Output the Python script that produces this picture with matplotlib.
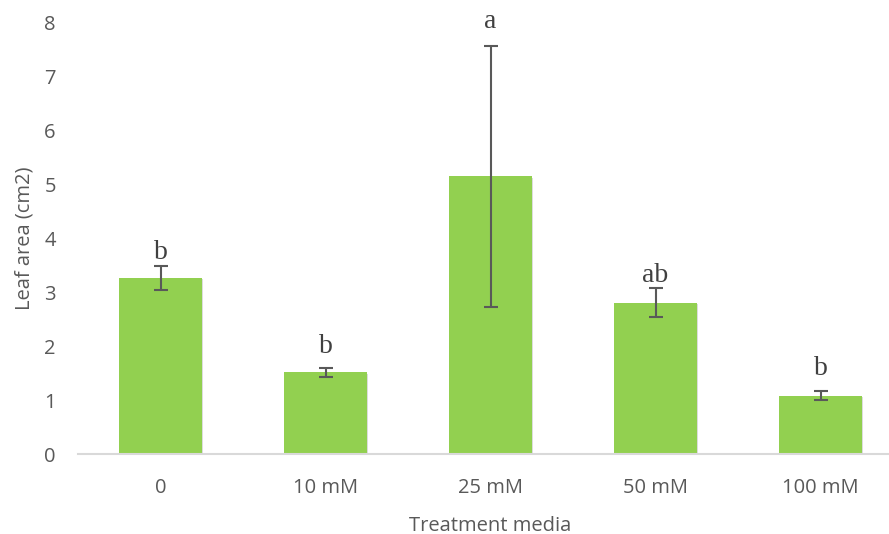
#----------------------------Importando bibliotecas----------------------------
import matplotlib
matplotlib.use("Agg")
import matplotlib.pyplot as plt
import matplotlib.patheffects as pe

#----------------------------Dados----------------------------
tratamentos = ["0", "10 mM", "25 mM", "50 mM", "100 mM"]
area_foliar = [3.26, 1.51, 5.14, 2.80, 1.08]
erro = [0.23, 0.09, 2.42, 0.265, 0.08]
letras = ["b", "b", "a", "ab", "b"]
altura_letras = [3.61, 1.87, 7.89, 3.19, 1.46]  # baseline das letras

#----------------------------Gráfico----------------------------
fig = plt.figure(figsize=(8.89, 5.34), dpi=100)
ax = fig.add_axes([78 / 889, (534 - 454) / 534, 825 / 889, 432 / 534])

x = list(range(len(tratamentos)))
bars = ax.bar(x, area_foliar, width=0.5, color="#92d050", zorder=2)
for b in bars:
    b.set_path_effects([pe.SimplePatchShadow(offset=(1, -1), shadow_rgbFace="#bbbbbb", alpha=0.5), pe.Normal()])

ax.errorbar(x, area_foliar, yerr=erro, fmt="none", ecolor="#595959",
            elinewidth=1.5, capsize=5, capthick=1.5, zorder=3)

for xi, letra, h in zip(x, letras, altura_letras):
    ax.text(xi, h, letra, ha="center", va="baseline", fontsize=20,
            family="Liberation Serif", color="#404040")

ax.set_xlim(-0.5, 4.5)
ax.set_ylim(0, 8)
ax.set_yticks(range(0, 9))
ax.set_xticks(x)
ax.set_xticklabels(tratamentos)

for s in ["top", "right", "left"]:
    ax.spines[s].set_visible(False)
ax.spines["bottom"].set_color("#d9d9d9")
ax.spines["bottom"].set_linewidth(1.5)
ax.tick_params(length=0, labelsize=14.5, colors="#595959")
ax.tick_params(axis="y", pad=16)
ax.tick_params(axis="x", pad=17)
for lbl in ax.get_xticklabels() + ax.get_yticklabels():
    lbl.set_family("Open Sans")

ax.set_ylabel("Leaf area (cm2)", fontsize=14.5, color="#595959", family="Open Sans", labelpad=7)
ax.set_xlabel("Treatment media", fontsize=14.5, color="#595959", family="Open Sans", labelpad=13)

fig.savefig("out.png", dpi=100)
